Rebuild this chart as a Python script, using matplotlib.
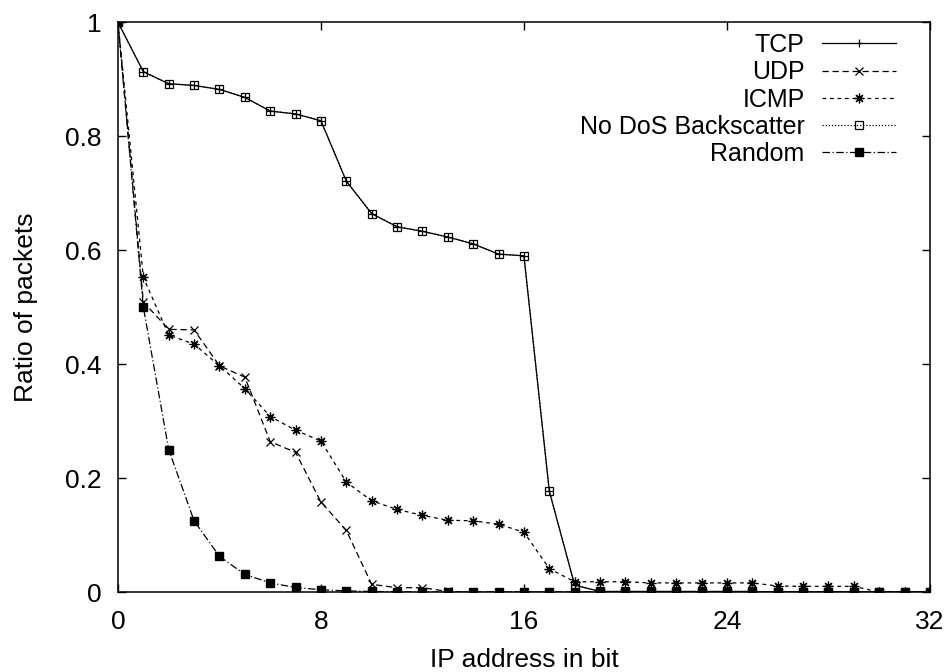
# IPアドレスのビット位置ごとのパケット比率 (TCP/UDP/ICMP/No DoS/Random)
import numpy as np
import matplotlib
matplotlib.use('Agg')
import matplotlib.pyplot as plt

plt.rcParams['font.family'] = ['Liberation Sans', 'DejaVu Sans']

bits = list(range(0, 33))

tcp = [1.0, 0.913, 0.892, 0.889, 0.882, 0.868, 0.844, 0.839, 0.827, 0.721,
       0.664, 0.641, 0.633, 0.623, 0.611, 0.593, 0.590, 0.177, 0.012, 0.001,
       0.001, 0.001, 0.001, 0.001, 0.001, 0.001, 0.0, 0.0, 0.0, 0.0,
       0.0, 0.0, 0.0]
udp = [1.0, 0.509, 0.461, 0.460, 0.397, 0.377, 0.264, 0.245, 0.158, 0.108,
       0.0135, 0.0076, 0.0076, 0.001, 0.0, 0.0, 0.0, 0.0, 0.0, 0.0,
       0.0, 0.0, 0.0, 0.0, 0.0, 0.0, 0.0, 0.0, 0.0, 0.0,
       0.0, 0.0, 0.0]
icmp = [1.0, 0.552, 0.451, 0.435, 0.397, 0.357, 0.308, 0.284, 0.265, 0.193,
        0.160, 0.145, 0.1345, 0.126, 0.125, 0.119, 0.105, 0.041, 0.018, 0.018,
        0.018, 0.016, 0.016, 0.016, 0.016, 0.016, 0.0105, 0.010, 0.010, 0.010,
        0.0, 0.0, 0.0]
nodos = [1.0, 0.913, 0.892, 0.889, 0.882, 0.868, 0.844, 0.839, 0.827, 0.721,
         0.664, 0.641, 0.633, 0.623, 0.611, 0.593, 0.590, 0.177, 0.012, 0.001,
         0.001, 0.001, 0.001, 0.001, 0.001, 0.001, 0.0, 0.0, 0.0, 0.0,
         0.0, 0.0, 0.0]
rand = [1.0, 0.5, 0.25, 0.125, 0.0625, 0.031, 0.016, 0.008, 0.004, 0.002,
        0.001, 0.0005, 0.0, 0.0, 0.0, 0.0, 0.0, 0.0, 0.0, 0.0,
        0.0, 0.0, 0.0, 0.0, 0.0, 0.0, 0.0, 0.0, 0.0, 0.0,
        0.0, 0.0, 0.0]

xticks = [0, 8, 16, 24, 32]
yticks = [0, 0.2, 0.4, 0.6, 0.8, 1]
yticklabels = ['0', '0.2', '0.4', '0.6', '0.8', '1']


def main():
    fig = plt.figure(figsize=(9.46, 6.72), dpi=100)
    ax = fig.add_axes([0.1247, 0.119, 0.983 - 0.1247, 0.967 - 0.119])

    lw = 0.9
    ms = 6
    ax.plot(bits, tcp, color='black', linestyle='-', linewidth=lw,
            marker='+', markersize=ms, markeredgewidth=0.9, label='TCP', zorder=5)
    ax.plot(bits, udp, color='black', linestyle=(0, (5, 3)), linewidth=lw,
            marker='x', markersize=ms, markeredgewidth=0.9, label='UDP')
    ax.plot(bits, icmp, color='black', linestyle=(0, (3, 3)), linewidth=lw,
            marker=(8, 2, 0), markersize=ms + 1, markeredgewidth=0.9, label='ICMP')
    ax.plot(bits, nodos, color='black', linestyle=(0, (1, 1.5)), linewidth=lw,
            marker='s', markersize=ms, markerfacecolor='none',
            markeredgewidth=0.9, label='No DoS Backscatter')
    ax.plot(bits, rand, color='black', linestyle=(0, (6, 2, 1, 2)), linewidth=lw,
            marker='s', markersize=ms, markerfacecolor='black',
            label='Random', zorder=6)

    ax.set_xlim(0, 32)
    ax.set_ylim(0, 1)
    ax.set_xticks(xticks)
    ax.set_yticks(yticks)
    ax.set_yticklabels(yticklabels)
    ax.tick_params(direction='in', top=True, right=True, length=6,
                   width=1, labelsize=19)
    ax.tick_params(axis='x', pad=13)
    ax.tick_params(axis='y', pad=11.5)
    for s in ax.spines.values():
        s.set_linewidth(1.1)

    ax.set_xlabel('IP address in bit', fontsize=19, labelpad=10)
    ax.set_ylabel('Ratio of packets', fontsize=19, labelpad=20)

    ax.legend(loc='upper right', bbox_to_anchor=(0.958, 0.981), frameon=False,
              markerfirst=False, fontsize=18, handlelength=2.95,
              labelspacing=0.13, handletextpad=0.7, borderaxespad=0,
              borderpad=0)

    fig.savefig('out.png', dpi=100)


if __name__ == "__main__":
    main()
